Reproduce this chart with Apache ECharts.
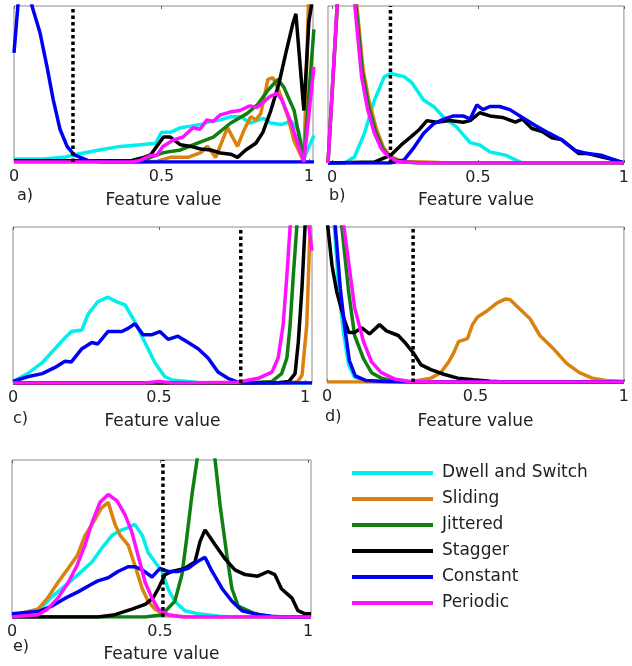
<!DOCTYPE html>
<html><head><meta charset="utf-8">
<script src="https://cdn.jsdelivr.net/npm/echarts@6/dist/echarts.min.js"></script>
<style>html,body{margin:0;padding:0;background:#fff}#c{width:632px;height:666px}</style>
</head><body><div id="c"></div>
<script>
// ---------- data ----------
const seriesNames = ['Dwell and Switch', 'Sliding', 'Jittered', 'Stagger', 'Constant', 'Periodic'];
const panelLabels = ['a)', 'b)', 'c)', 'd)', 'e)'];
const axisTitle = 'Feature value';
const tickValues = [0, 0.5, 1];
const thresholds = [0.2, 0.2, 0.78, 0.29, 0.51];

// panel a
const aDwell = [[0,0.02],[0.1,0.02],[0.17,0.03],[0.2,0.045],[0.29,0.077],[0.36,0.10],[0.43,0.11],[0.48,0.12],[0.5,0.19],[0.53,0.19],[0.565,0.22],[0.6,0.23],[0.633,0.24],[0.667,0.26],[0.7,0.27],[0.735,0.29],[0.77,0.29],[0.8,0.25],[0.845,0.28],[0.87,0.25],[0.905,0.24],[0.94,0.26],[0.965,0.2],[0.985,0.03],[1.017,0.17]];
const aSliding = [[0,0],[0.45,0],[0.486,0.005],[0.53,0.03],[0.59,0.03],[0.633,0.06],[0.656,0.1],[0.684,0.03],[0.724,0.22],[0.758,0.1],[0.779,0.2],[0.803,0.29],[0.82,0.27],[0.837,0.31],[0.861,0.53],[0.878,0.54],[0.898,0.46],[0.929,0.29],[0.949,0.14],[0.983,0],[1.0,1.1],[1.017,1.2]];
const aJittered = [[0,0.005],[0.44,0.01],[0.463,0.03],[0.507,0.06],[0.565,0.077],[0.62,0.12],[0.676,0.16],[0.735,0.25],[0.79,0.31],[0.827,0.37],[0.861,0.46],[0.895,0.53],[0.915,0.48],[0.95,0.33],[0.983,0.01],[1.017,0.85]];
const aStagger = [[0,0.008],[0.4,0.01],[0.44,0.03],[0.463,0.045],[0.507,0.16],[0.53,0.16],[0.565,0.11],[0.6,0.10],[0.633,0.083],[0.667,0.077],[0.70,0.058],[0.735,0.05],[0.758,0.03],[0.786,0.077],[0.82,0.12],[0.844,0.19],[0.871,0.33],[0.898,0.5],[0.922,0.70],[0.946,0.89],[0.956,0.95],[0.983,0.33],[1.0,0.9],[1.017,1.1]];
const aConstant = [[0,0.7],[0.035,1.5],[0.061,1.0],[0.088,0.83],[0.112,0.61],[0.133,0.40],[0.156,0.21],[0.18,0.10],[0.204,0.045],[0.25,0.01],[0.3,0],[1.017,0]];
const aPeriodic = [[0,0],[0.4,0],[0.427,0.01],[0.461,0.04],[0.485,0.045],[0.505,0.1],[0.539,0.14],[0.573,0.16],[0.607,0.22],[0.631,0.21],[0.654,0.27],[0.675,0.26],[0.698,0.3],[0.732,0.32],[0.766,0.33],[0.8,0.36],[0.824,0.35],[0.844,0.38],[0.868,0.42],[0.892,0.44],[0.908,0.4],[0.936,0.27],[0.959,0.14],[0.983,0],[1.017,0.61]];

// panel b
const bDwell = [[-0.014,0],[0.044,0],[0.077,0.04],[0.111,0.19],[0.145,0.4],[0.179,0.55],[0.201,0.57],[0.247,0.55],[0.274,0.51],[0.314,0.4],[0.348,0.36],[0.383,0.29],[0.426,0.23],[0.473,0.13],[0.506,0.115],[0.541,0.07],[0.594,0.05],[0.628,0.02],[0.654,0],[1,0]];
const bSliding = [[-0.014,0],[0.047,1.9],[0.085,1.0],[0.106,0.6],[0.126,0.4],[0.151,0.22],[0.176,0.1],[0.2,0.04],[0.24,0.01],[0.34,0.005],[0.4,0],[1,0]];
const bJittered = [[-0.014,0],[0.046,1.9],[0.082,1.0],[0.104,0.58],[0.124,0.37],[0.149,0.2],[0.174,0.09],[0.196,0.04],[0.23,0.01],[0.3,0],[1,0]];
const bStagger = [[-0.014,0],[0.145,0.006],[0.201,0.05],[0.237,0.115],[0.272,0.17],[0.297,0.21],[0.325,0.27],[0.358,0.26],[0.403,0.27],[0.449,0.26],[0.473,0.27],[0.506,0.32],[0.541,0.3],[0.584,0.29],[0.628,0.26],[0.652,0.28],[0.685,0.22],[0.72,0.2],[0.753,0.16],[0.785,0.15],[0.82,0.1],[0.846,0.06],[0.876,0.06],[0.922,0.04],[0.967,0.02],[1,0]];
const bConstant = [[-0.014,0],[0.2,0],[0.247,0.02],[0.281,0.1],[0.314,0.19],[0.348,0.25],[0.383,0.28],[0.416,0.3],[0.449,0.3],[0.473,0.28],[0.496,0.37],[0.517,0.34],[0.541,0.36],[0.574,0.36],[0.609,0.34],[0.652,0.29],[0.695,0.24],[0.743,0.19],[0.785,0.15],[0.832,0.08],[0.876,0.06],[0.922,0.05],[0.967,0.02],[1,0]];
const bPeriodic = [[-0.014,0],[0.045,1.9],[0.078,1.0],[0.101,0.55],[0.122,0.34],[0.145,0.19],[0.169,0.09],[0.189,0.05],[0.223,0.01],[0.3,0],[1,0]];

// panel c
const cDwell = [[0,0.01],[0.05,0.06],[0.1,0.13],[0.144,0.22],[0.178,0.29],[0.2,0.33],[0.236,0.34],[0.257,0.44],[0.29,0.52],[0.325,0.55],[0.356,0.52],[0.384,0.5],[0.418,0.39],[0.452,0.26],[0.486,0.13],[0.52,0.04],[0.545,0.02],[0.6,0.01],[0.65,0],[1.024,0]];
const cSliding = [[0,0],[0.95,0],[0.975,0.01],[0.99,0.05],[1.006,0.37],[1.017,0.97],[1.024,1.3]];
const cJittered = [[0,0],[0.8,0],[0.887,0.01],[0.92,0.06],[0.938,0.16],[0.949,0.37],[0.96,0.69],[0.972,1.0],[0.99,1.5],[1.024,1.8]];
const cStagger = [[0,0],[0.9,0],[0.945,0.01],[0.966,0.06],[0.977,0.26],[0.99,0.62],[1.0,1.0],[1.024,1.6]];
const cConstant = [[0,0.01],[0.05,0.04],[0.1,0.06],[0.144,0.1],[0.178,0.14],[0.2,0.135],[0.236,0.22],[0.27,0.26],[0.29,0.25],[0.325,0.33],[0.373,0.33],[0.394,0.35],[0.418,0.38],[0.445,0.31],[0.476,0.31],[0.503,0.33],[0.531,0.28],[0.565,0.3],[0.6,0.26],[0.634,0.22],[0.668,0.16],[0.702,0.07],[0.736,0.03],[0.77,0.005],[0.8,0],[1.024,0]];
const cPeriodic = [[0,0],[0.45,0],[0.5,0.01],[0.55,0],[0.77,0.005],[0.84,0.03],[0.887,0.07],[0.908,0.16],[0.925,0.37],[0.938,0.69],[0.949,1.0],[0.985,1.4],[1.024,0.85]];

// panel d
const dDwell = [[0,1.6],[0.025,1.0],[0.04,0.58],[0.057,0.3],[0.073,0.11],[0.093,0.03],[0.13,0.005],[0.2,0],[1,0]];
const dSliding = [[0,0],[0.25,0],[0.293,0.005],[0.35,0.025],[0.383,0.06],[0.41,0.13],[0.427,0.19],[0.443,0.26],[0.473,0.28],[0.49,0.37],[0.507,0.42],[0.54,0.46],[0.573,0.51],[0.6,0.535],[0.617,0.53],[0.65,0.47],[0.683,0.41],[0.717,0.3],[0.76,0.22],[0.807,0.12],[0.85,0.06],[0.893,0.025],[0.94,0.01],[0.993,0.005],[1,0]];
const dJittered = [[0,1.8],[0.05,1.0],[0.073,0.58],[0.093,0.3],[0.123,0.15],[0.15,0.06],[0.183,0.025],[0.227,0.005],[0.3,0],[1,0]];
const dStagger = [[0,1.05],[0.017,0.75],[0.033,0.58],[0.057,0.41],[0.073,0.32],[0.093,0.32],[0.117,0.35],[0.143,0.31],[0.177,0.37],[0.2,0.33],[0.24,0.3],[0.26,0.26],[0.29,0.19],[0.317,0.11],[0.35,0.08],[0.393,0.05],[0.44,0.025],[0.493,0.015],[0.55,0.005],[0.6,0],[1,0]];
const dConstant = [[0,1.6],[0.028,1.0],[0.045,0.6],[0.06,0.35],[0.075,0.14],[0.095,0.04],[0.13,0.01],[0.2,0.003],[0.3,0],[1,0]];
const dPeriodic = [[0,1.8],[0.057,1.0],[0.073,0.77],[0.093,0.48],[0.123,0.26],[0.15,0.13],[0.183,0.06],[0.227,0.02],[0.273,0.005],[0.35,0],[1,0]];

// panel e
const eDwell = [[0,0.01],[0.054,0.03],[0.1,0.06],[0.135,0.13],[0.18,0.2],[0.223,0.27],[0.27,0.35],[0.304,0.44],[0.338,0.52],[0.365,0.55],[0.392,0.57],[0.415,0.59],[0.44,0.52],[0.46,0.41],[0.483,0.35],[0.507,0.29],[0.527,0.18],[0.55,0.1],[0.584,0.04],[0.63,0.02],[0.7,0.005],[0.75,0],[1.01,0]];
const eSliding = [[0,0.01],[0.044,0.03],[0.088,0.05],[0.12,0.12],[0.155,0.22],[0.19,0.31],[0.22,0.39],[0.247,0.52],[0.28,0.62],[0.3,0.69],[0.325,0.73],[0.348,0.59],[0.365,0.52],[0.392,0.46],[0.415,0.33],[0.44,0.18],[0.46,0.1],[0.483,0.05],[0.517,0.015],[0.56,0.005],[0.6,0],[1.01,0]];
const eJittered = [[0,0],[0.45,0],[0.507,0.015],[0.55,0.1],[0.574,0.27],[0.59,0.5],[0.608,0.78],[0.625,1.0],[0.655,1.5],[0.686,1.0],[0.703,0.71],[0.726,0.39],[0.743,0.18],[0.764,0.07],[0.81,0.03],[0.85,0.005],[0.9,0],[1.01,0]];
const eStagger = [[0,0],[0.29,0],[0.348,0.015],[0.405,0.05],[0.45,0.08],[0.476,0.12],[0.494,0.18],[0.517,0.27],[0.54,0.29],[0.584,0.31],[0.618,0.35],[0.635,0.48],[0.652,0.555],[0.686,0.46],[0.72,0.37],[0.753,0.3],[0.787,0.27],[0.83,0.26],[0.865,0.29],[0.888,0.27],[0.91,0.18],[0.946,0.12],[0.966,0.04],[0.99,0.02],[1.01,0.02]];
const eConstant = [[0,0.02],[0.088,0.035],[0.135,0.07],[0.18,0.12],[0.223,0.16],[0.27,0.21],[0.29,0.23],[0.325,0.25],[0.358,0.29],[0.392,0.32],[0.415,0.32],[0.44,0.3],[0.473,0.255],[0.5,0.31],[0.527,0.29],[0.56,0.29],[0.595,0.31],[0.624,0.35],[0.652,0.38],[0.676,0.29],[0.71,0.18],[0.743,0.1],[0.777,0.04],[0.82,0.02],[0.876,0.005],[0.92,0],[1.01,0]];
const ePeriodic = [[0,0],[0.088,0.015],[0.12,0.05],[0.155,0.12],[0.19,0.22],[0.22,0.33],[0.247,0.46],[0.27,0.6],[0.297,0.73],[0.325,0.78],[0.355,0.74],[0.382,0.65],[0.405,0.54],[0.426,0.39],[0.45,0.22],[0.473,0.12],[0.494,0.05],[0.527,0.015],[0.58,0],[1.01,0]];

const panelSeries = [
  [aDwell, aSliding, aJittered, aStagger, aConstant, aPeriodic],
  [bDwell, bSliding, bJittered, bStagger, bConstant, bPeriodic],
  [cDwell, cSliding, cJittered, cStagger, cConstant, cPeriodic],
  [dDwell, dSliding, dJittered, dStagger, dConstant, dPeriodic],
  [eDwell, eSliding, eJittered, eStagger, eConstant, ePeriodic]
];

// ---------- style / layout ----------
const colors = ['#00EEEE', '#D9820F', '#0F7F0F', '#000000', '#0000F5', '#FF10FF'];
const FONT = 'DejaVu Sans';
const TXT = '#222';
const layout = [
  {left: 14, top: 6, width: 299, height: 156, min: 0, max: 1.014, lab: [17, 196]},
  {left: 328, top: 6, width: 300, height: 157, min: -0.014, max: 1.0, lab: [329, 196]},
  {left: 13, top: 227, width: 299, height: 156, min: 0, max: 1.024, lab: [13, 419]},
  {left: 327, top: 227, width: 300, height: 155, min: 0, max: 1.0, lab: [325, 417]},
  {left: 12, top: 460, width: 299, height: 157, min: 0, max: 1.01, lab: [13, 647]}
];
const nameGaps = [39, 38, 39, 40, 38];

const grid = [], xAxis = [], yAxis = [], series = [], graphic = [];
layout.forEach((L, i) => {
  grid.push({left: L.left, top: L.top, width: L.width, height: L.height,
    show: true, borderColor: '#8a8a8a', borderWidth: 1, backgroundColor: 'transparent'});
  xAxis.push({type: 'value', gridIndex: i, min: L.min, max: L.max, position: 'bottom',
    axisLine: {show: false}, splitLine: {show: false},
    axisTick: {show: true, inside: true, length: 3, customValues: tickValues, lineStyle: {color: '#666'}},
    axisLabel: {customValues: tickValues, margin: 15, verticalAlign: 'middle',
      fontFamily: FONT, fontSize: 16, color: TXT},
    name: axisTitle, nameLocation: 'middle', nameGap: nameGaps[i],
    nameTextStyle: {fontFamily: FONT, fontSize: 17, color: TXT, verticalAlign: 'middle'}
  });
  xAxis.push({type: 'value', gridIndex: i, min: L.min, max: L.max, position: 'top',
    axisLine: {show: false}, splitLine: {show: false},
    axisTick: {show: true, inside: true, length: 3, customValues: tickValues, lineStyle: {color: '#666'}},
    axisLabel: {show: false}});
  yAxis.push({type: 'value', gridIndex: i, min: 0, max: 1, show: false});
  panelSeries[i].forEach((d, k) => {
    series.push({type: 'line', name: seriesNames[k], xAxisIndex: 2 * i, yAxisIndex: i,
      data: d, symbol: 'none', clip: true, animation: false, silent: true,
      itemStyle: {color: colors[k]}, lineStyle: {color: colors[k], width: 3.5}});
  });
  series.push({type: 'line', name: 'threshold', xAxisIndex: 2 * i, yAxisIndex: i,
    data: [[thresholds[i], 0], [thresholds[i], 1]], symbol: 'none', clip: true,
    animation: false, silent: true,
    itemStyle: {color: '#000'}, lineStyle: {color: '#000', width: 3.5, type: [3.5, 3]}});
  graphic.push({type: 'text', x: L.lab[0], y: L.lab[1],
    style: {text: panelLabels[i], font: '16px "' + FONT + '"', fill: TXT, align: 'left', verticalAlign: 'middle'}});
});

const chart = echarts.init(document.getElementById('c'), null, {renderer: 'canvas'});
chart.setOption({
  backgroundColor: '#fff',
  animation: false,
  grid, xAxis, yAxis, series, graphic,
  legend: {
    data: seriesNames, orient: 'vertical', left: 352, top: 463, padding: 0,
    itemWidth: 81, itemHeight: 4, itemGap: 6, icon: 'rect', selectedMode: false,
    textStyle: {fontFamily: FONT, fontSize: 17, color: TXT, lineHeight: 20, padding: [0, 0, 0, 4]}
  }
});
</script>
</body></html>
